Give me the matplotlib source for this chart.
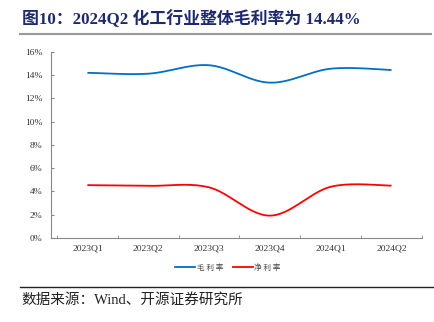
import numpy as np
import matplotlib
matplotlib.use("Agg")
import matplotlib.pyplot as plt
from matplotlib.lines import Line2D

quarters = ["2023Q1", "2023Q2", "2023Q3", "2023Q4", "2024Q1", "2024Q2"]
gross_margin = [14.2, 14.12, 14.85, 13.35, 14.55, 14.44]
net_margin = [4.54, 4.48, 4.35, 1.92, 4.4, 4.5]
yticks = [0, 2, 4, 6, 8, 10, 12, 14, 16]

BLUE, RED = "#0070c0", "#ff0000"
SERIF_CJK = ["Liberation Serif", "Noto Sans CJK SC"]


def smooth(ys, n=30):
    """Excel-style smoothed line: cubic bezier, control points from neighbours."""
    x = np.arange(len(ys), dtype=float)
    y = np.asarray(ys, dtype=float)
    px, py = [], []
    for i in range(len(y) - 1):
        x0, y0 = (x[i - 1], y[i - 1]) if i > 0 else (x[i], y[i])
        x3, y3 = (x[i + 2], y[i + 2]) if i + 2 < len(y) else (x[i + 1], y[i + 1])
        c1 = (x[i] + (x[i + 1] - x0) / 6, y[i] + (y[i + 1] - y0) / 6)
        c2 = (x[i + 1] - (x3 - x[i]) / 6, y[i + 1] - (y3 - y[i]) / 6)
        t = np.linspace(0, 1, n)
        bx = (1 - t) ** 3 * x[i] + 3 * (1 - t) ** 2 * t * c1[0] + 3 * (1 - t) * t ** 2 * c2[0] + t ** 3 * x[i + 1]
        by = (1 - t) ** 3 * y[i] + 3 * (1 - t) ** 2 * t * c1[1] + 3 * (1 - t) * t ** 2 * c2[1] + t ** 3 * y[i + 1]
        px.extend(bx)
        py.extend(by)
    return px, py


fig = plt.figure(figsize=(4.35, 3.22), dpi=100)
ax = fig.add_axes([0.117, 0.261, 0.853, 0.578])

for vals, color in [(gross_margin, BLUE), (net_margin, RED)]:
    sx, sy = smooth(vals)
    ax.plot(sx, sy, color=color, lw=1.3, solid_capstyle="butt")

ax.set_xlim(-0.6, 5.5)
ax.set_ylim(0, 16)
ax.set_yticks(yticks)
ax.set_yticklabels([f"{v}%" for v in yticks], family="Liberation Serif", fontsize=6.8, color="#333333")
ax.set_xticks(range(len(quarters)))
ax.set_xticklabels(quarters, family="Liberation Serif", fontsize=6.8, color="#333333")
ax.set_xticks(np.arange(-0.5, 5.6, 1.0), minor=True)
ax.tick_params(axis="x", which="major", length=0, pad=4.5)
ax.tick_params(axis="x", which="minor", length=2.5, color="#888888", direction="in")
ax.tick_params(axis="y", length=2.5, color="#888888", direction="in", pad=6)
for s in ["top", "right"]:
    ax.spines[s].set_visible(False)
for s in ["left", "bottom"]:
    ax.spines[s].set_color("#888888")
    ax.spines[s].set_linewidth(0.8)

handles = [Line2D([], [], color=BLUE, lw=1.3), Line2D([], [], color=RED, lw=1.3)]
fig.legend(handles, ["毛 利 率", "净 利 率"], loc="center", bbox_to_anchor=(0.524, 0.168),
           ncol=2, frameon=False, prop={"family": "Noto Sans CJK SC", "size": 5.5},
           handlelength=2.6, handletextpad=0.2, columnspacing=1.3,
           labelcolor="#444444")

fig.text(0.05, 0.94, "图10：2024Q2 化工行业整体毛利率为 14.44%", family=SERIF_CJK,
         fontsize=12.2, fontweight="bold", color="#1f2a6b", va="center")
fig.add_artist(Line2D([0.046, 0.99], [0.895, 0.895], color="#999999", lw=1.5))
fig.add_artist(Line2D([0.046, 1.0], [0.108, 0.108], color="#222222", lw=1.0))
fig.text(0.05, 0.068, "数据来源：Wind、开源证券研究所", family=SERIF_CJK,
         fontsize=10.5, color="#222222", va="center")

fig.savefig("out.png", dpi=100)
